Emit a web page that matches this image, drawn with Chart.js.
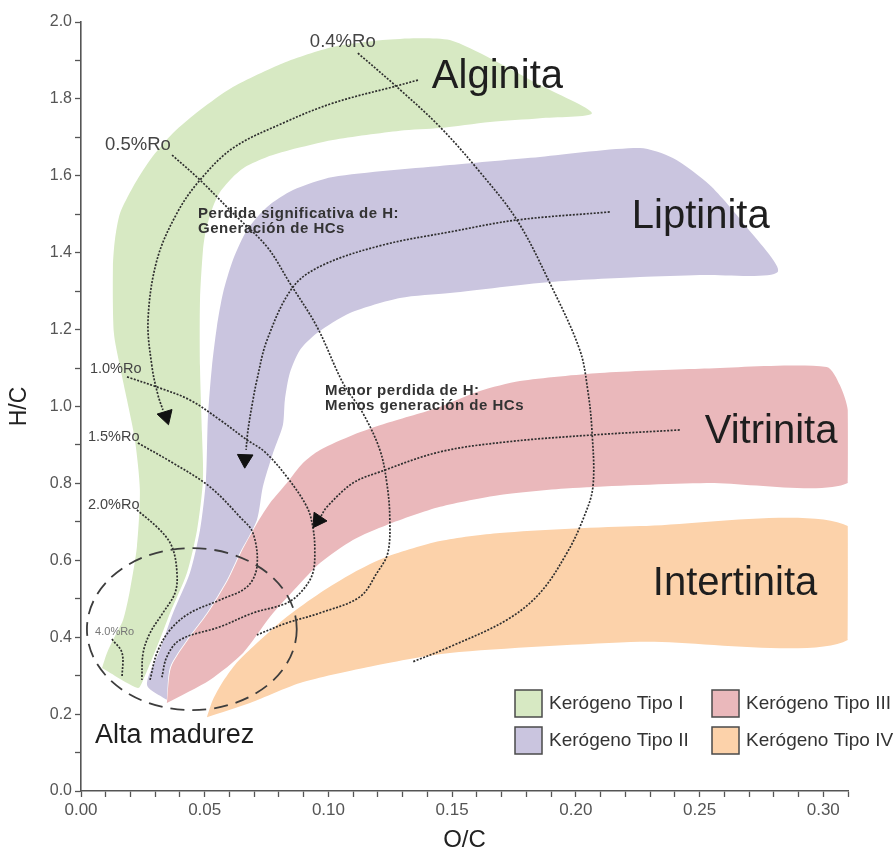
<!DOCTYPE html>
<html>
<head>
<meta charset="utf-8">
<script src="https://cdn.jsdelivr.net/npm/chart.js@4.4.1/dist/chart.umd.min.js"></script>
<style>
html,body{margin:0;padding:0;background:#fff;}
#wrap{width:896px;height:852px;position:relative;}
canvas{display:block;}
</style>
</head>
<body>
<div id="wrap"><canvas id="c" width="896" height="852"></canvas></div>
<script>
// ---------------- data (O/C, H/C) ----------------
const xTickLabels = ['0.00','0.05','0.10','0.15','0.20','0.25','0.30'];
const yTickLabels = ['0.0','0.2','0.4','0.6','0.8','1.0','1.2','1.4','1.6','1.8','2.0'];

const kerogenTypes = ['Kerógeno Tipo I','Kerógeno Tipo II','Kerógeno Tipo III','Kerógeno Tipo IV'];

const typeI = [[0.0085,0.320],[0.0105,0.359],[0.0129,0.393],[0.0170,0.445],[0.0198,0.523],[0.0226,0.635],
  [0.0238,0.783],[0.0218,0.913],[0.0186,1.017],[0.0158,1.103],[0.0133,1.191],[0.0129,1.363],[0.0137,1.433],
  [0.0158,1.503],[0.0210,1.571],[0.0279,1.641],[0.0372,1.711],[0.0481,1.771],[0.0614,1.831],[0.0816,1.893],
  [0.1018,1.935],[0.1220,1.953],[0.1358,1.958],[0.1491,1.953],[0.1653,1.906],[0.1855,1.836],[0.2065,1.763],
  [0.1855,1.750],[0.1653,1.740],[0.1451,1.724],[0.1289,1.717],[0.1018,1.693],[0.0844,1.667],[0.0752,1.649],
  [0.0663,1.623],[0.0614,1.597],[0.0562,1.558],[0.0533,1.519],[0.0505,1.459],[0.0493,1.407],[0.0481,1.277],
  [0.0481,1.103],[0.0489,0.931],[0.0493,0.809],[0.0469,0.679],[0.0428,0.567],[0.0360,0.463],[0.0307,0.375],
  [0.0251,0.289],[0.0230,0.268],[0.0085,0.320]];

const typeII = [[0.0347,0.237],[0.0267,0.276],[0.0319,0.367],[0.0372,0.463],[0.0440,0.567],[0.0481,0.679],
  [0.0505,0.809],[0.0513,0.973],[0.0529,1.103],[0.0549,1.207],[0.0574,1.295],[0.0614,1.381],[0.0671,1.459],
  [0.0752,1.519],[0.0857,1.563],[0.1018,1.597],[0.1491,1.628],[0.1855,1.649],[0.2259,1.672],[0.2392,1.646],
  [0.2541,1.576],[0.2683,1.472],[0.2816,1.350],[0.2501,1.342],[0.2259,1.337],[0.1895,1.324],[0.1491,1.295],
  [0.1289,1.282],[0.1087,1.243],[0.0954,1.191],[0.0885,1.147],[0.0844,1.087],[0.0824,1.017],[0.0816,0.952],
  [0.0776,0.879],[0.0735,0.791],[0.0711,0.705],[0.0642,0.619],[0.0590,0.549],[0.0509,0.463],[0.0428,0.393],
  [0.0360,0.322],[0.0347,0.237]];

const typeIII = [[0.0347,0.229],[0.0364,0.322],[0.0432,0.393],[0.0513,0.463],[0.0594,0.549],[0.0646,0.619],
  [0.0715,0.700],[0.0764,0.749],[0.0832,0.801],[0.0897,0.853],[0.0966,0.887],[0.1099,0.926],[0.1236,0.957],
  [0.1451,0.999],[0.1612,1.040],[0.1774,1.066],[0.2097,1.087],[0.2501,1.098],[0.3014,1.103],[0.3067,1.056],
  [0.3099,0.991],[0.3099,0.801],[0.2529,0.801],[0.1988,0.788],[0.1693,0.770],[0.1451,0.739],[0.1236,0.692],
  [0.1099,0.653],[0.0966,0.593],[0.0873,0.531],[0.0764,0.453],[0.0655,0.359],[0.0521,0.289],[0.0347,0.229]];

const typeIV = [[0.0509,0.192],[0.0533,0.237],[0.0570,0.281],[0.0622,0.328],[0.0695,0.375],[0.0832,0.453],
  [0.0966,0.515],[0.1099,0.567],[0.1236,0.609],[0.1451,0.650],[0.1693,0.671],[0.2259,0.689],[0.3099,0.689],
  [0.3099,0.393],[0.2259,0.388],[0.1491,0.359],[0.1156,0.322],[0.0885,0.281],[0.0683,0.229],[0.0509,0.192]];

// evolution paths
const pathI = [[0.1362,1.849],[0.1277,1.834],[0.1018,1.789],[0.0816,1.737],[0.0614,1.672],[0.0481,1.589],
  [0.0388,1.503],[0.0307,1.381],[0.0271,1.225],[0.0287,1.103],[0.0311,1.030],[0.0331,0.991]];
const pathII = [[0.2137,1.506],[0.1762,1.485],[0.1491,1.454],[0.1220,1.420],[0.0978,1.368],[0.0857,1.311],
  [0.0752,1.173],[0.0711,1.069],[0.0695,1.017],[0.0675,0.939],[0.0667,0.887]];
const pathIII = [[0.2420,0.939],[0.2069,0.926],[0.1721,0.908],[0.1451,0.882],[0.1208,0.830],[0.1099,0.801],
  [0.0994,0.739],[0.0970,0.715]];
const arrowHeads = [[0.0343,0.975],[0.0663,0.863],[0.0958,0.704]];
const arrowAngles = [163,182,214];

// iso-reflectance lines
const ro04 = [[0.1119,1.919],[0.1277,1.831],[0.1451,1.727],[0.1612,1.610],[0.1762,1.485],[0.1895,1.321],
  [0.2016,1.147],[0.2048,1.043],[0.2065,0.939],[0.2069,0.791],[0.2028,0.705],[0.1964,0.619],[0.1855,0.515],
  [0.1721,0.445],[0.1491,0.375],[0.1341,0.336]];
const ro05 = [[0.0368,1.654],[0.0481,1.589],[0.0614,1.503],[0.0752,1.415],[0.0844,1.321],[0.0954,1.207],
  [0.1059,1.061],[0.1139,0.983],[0.1208,0.887],[0.1236,0.801],[0.1248,0.713],[0.1240,0.619],[0.1196,0.567],
  [0.1127,0.505],[0.0966,0.463],[0.0832,0.437],[0.0711,0.406]];
const ro10 = [[0.0186,1.077],[0.0319,1.048],[0.0440,1.017],[0.0562,0.965],[0.0671,0.913],[0.0743,0.882],
  [0.0832,0.817],[0.0913,0.739],[0.0937,0.687],[0.0945,0.627],[0.0937,0.567],[0.0897,0.523],[0.0832,0.489],
  [0.0695,0.463],[0.0562,0.427],[0.0400,0.393],[0.0347,0.349],[0.0327,0.296]];
const ro15 = [[0.0230,0.905],[0.0372,0.853],[0.0521,0.791],[0.0642,0.713],[0.0695,0.671],[0.0711,0.583],
  [0.0671,0.531],[0.0562,0.497],[0.0440,0.463],[0.0360,0.419],[0.0307,0.359],[0.0279,0.289]];
const ro20 = [[0.0226,0.731],[0.0319,0.679],[0.0368,0.635],[0.0388,0.567],[0.0380,0.515],[0.0331,0.463],
  [0.0279,0.411],[0.0251,0.359],[0.0246,0.289]];
const ro40 = [[0.0125,0.395],[0.0166,0.359],[0.0166,0.296]];

// high maturity zone: centre x, centre y, radius x, radius y
const highMaturity = [0.0448, 0.421, 0.0424, 0.2107];

// text annotations [text, O/C, H/C]
const macerals = [['Alginita',0.1418,1.828],['Liptinita',0.2226,1.464],['Vitrinita',0.2521,0.905],['Intertinita',0.2311,0.510]];
const roLabelsBig = [['0.4%Ro',0.0925,1.935],['0.5%Ro',0.0097,1.667]];
const roLabelsSmall = [['1.0%Ro',0.0036,1.087],['1.5%Ro',0.0028,0.910],['2.0%Ro',0.0028,0.733]];
const roLabelsTiny = [['4.0%Ro',0.0057,0.406]];
const notes = [['Perdida significativa de H:',0.0473,1.490],['Generación de HCs',0.0473,1.451],
  ['Menor perdida de H:',0.0986,1.030],['Menos generación de HCs',0.0986,0.991]];
const zoneLabel = [['Alta madurez',0.0057,0.125]];

// ---------------- chart ----------------
const FONT = "'Liberation Sans', Arial, Helvetica, sans-serif";
const pts = a => a.map(p => ({x:p[0], y:p[1]}));
const bandColors = ['#d7e9c3','#cac5df','#eab8bb','#fcd2aa'];

const bandSets = [typeI, typeII, typeIII, typeIV].map((d,i) => ({
  label: kerogenTypes[i], data: pts(d), showLine: true, fill: 'shape',
  backgroundColor: bandColors[i], borderColor: 'rgba(0,0,0,0)', borderWidth: 0,
  pointRadius: 0, tension: 0.25, order: 20 - i, isBand: true
}));
const dotted = (label, d) => ({
  label, data: pts(d), showLine: true, fill: false, borderColor: '#2e2e2e',
  borderWidth: 1.7, borderDash: [2, 1.5], pointRadius: 0, tension: 0.35, order: 5
});
const lineSets = [
  dotted('Trayectoria I', pathI), dotted('Trayectoria II', pathII), dotted('Trayectoria III', pathIII),
  dotted('0.4%Ro', ro04), dotted('0.5%Ro', ro05), dotted('1.0%Ro', ro10),
  dotted('1.5%Ro', ro15), dotted('2.0%Ro', ro20), dotted('4.0%Ro', ro40)
];
const arrowSet = {
  label: 'flechas', data: pts(arrowHeads), showLine: false, pointStyle: 'triangle',
  pointRadius: 9, pointRotation: arrowAngles, backgroundColor: '#111', borderColor: '#111',
  pointBackgroundColor: '#111', pointBorderColor: '#111', pointBorderWidth: 1, order: 1
};

const decor = {
  id: 'decor',
  afterDatasetsDraw(chart) {
    const {ctx, scales: {x, y}} = chart;
    ctx.save();
    // dashed high-maturity ellipse
    const cx = x.getPixelForValue(highMaturity[0]), cy = y.getPixelForValue(highMaturity[1]);
    const rx = Math.abs(x.getPixelForValue(highMaturity[0] + highMaturity[2]) - cx);
    const ry = Math.abs(y.getPixelForValue(highMaturity[1] + highMaturity[3]) - cy);
    ctx.setLineDash([14, 8]); ctx.lineWidth = 1.8; ctx.strokeStyle = '#3d3d3d';
    ctx.beginPath(); ctx.ellipse(cx, cy, rx, ry, 0, 0, Math.PI * 2); ctx.stroke();
    ctx.setLineDash([]);
    const draw = (arr, font, color, spacing) => {
      ctx.font = font; ctx.fillStyle = color; ctx.textAlign = 'left'; ctx.textBaseline = 'alphabetic';
      if ('letterSpacing' in ctx) ctx.letterSpacing = spacing || '0px';
      arr.forEach(t => ctx.fillText(t[0], x.getPixelForValue(t[1]), y.getPixelForValue(t[2])));
      if ('letterSpacing' in ctx) ctx.letterSpacing = '0px';
    };
    draw(macerals, '40px ' + FONT, '#1e1e1e');
    draw(roLabelsBig, '18.5px ' + FONT, '#444');
    draw(roLabelsSmall, '14.5px ' + FONT, '#444');
    draw(roLabelsTiny, '11px ' + FONT, '#777');
    draw(notes, 'bold 15px ' + FONT, '#333', '0.5px');
    draw(zoneLabel, '27px ' + FONT, '#1e1e1e');
    // legend
    const bands = chart.data.datasets.filter(d => d.isBand);
    const slots = [[515,690],[515,727],[712,690],[712,727]];
    ctx.font = '19px ' + FONT; ctx.textBaseline = 'middle';
    bands.forEach((d, i) => {
      const [lx, ly] = slots[i];
      ctx.fillStyle = d.backgroundColor; ctx.fillRect(lx, ly, 27, 27);
      ctx.lineWidth = 1.5; ctx.strokeStyle = '#4a4a4a'; ctx.strokeRect(lx, ly, 27, 27);
      ctx.fillStyle = '#333'; ctx.fillText(d.label, lx + 34, ly + 14);
    });
    ctx.restore();
  }
};

new Chart(document.getElementById('c'), {
  type: 'scatter',
  data: { datasets: [arrowSet, ...lineSets, ...bandSets] },
  options: {
    responsive: false, devicePixelRatio: 1, animation: false, events: [],
    layout: { padding: { left: 0, right: 48, top: 22, bottom: 0 } },
    plugins: { legend: { display: false }, tooltip: { enabled: false } },
    scales: {
      x: {
        type: 'linear', min: 0, max: 0.31,
        afterFit: s => { s.height = 61; },
        ticks: {
          stepSize: 0.01, autoSkip: false, maxRotation: 0, minRotation: 0, padding: 3,
          color: '#555', font: { family: FONT, size: 17 },
          callback: v => { const s = Number(v).toFixed(2); return xTickLabels.includes(s) ? s : ''; }
        },
        grid: { drawOnChartArea: false, drawTicks: true, tickLength: 6, tickColor: '#555', tickWidth: 1.3 },
        border: { display: true, color: '#555', width: 1.6 },
        title: { display: true, text: 'O/C', color: '#222', font: { family: FONT, size: 24, lineHeight: 1 }, padding: { top: 0, bottom: 0 } }
      },
      y: {
        type: 'linear', min: 0, max: 2.0,
        afterFit: s => { s.width = 81; },
        ticks: {
          stepSize: 0.1, autoSkip: false, padding: 3,
          color: '#555', font: { family: FONT, size: 16 },
          callback: v => { const s = Number(v).toFixed(1); return yTickLabels.includes(s) && Math.round(v * 10) % 2 === 0 ? s : ''; }
        },
        grid: { drawOnChartArea: false, drawTicks: true, tickLength: 6, tickColor: '#555', tickWidth: 1.3 },
        border: { display: true, color: '#555', width: 1.6 },
        title: { display: true, text: 'H/C', color: '#222', font: { family: FONT, size: 23, lineHeight: 1 }, padding: { top: 8, bottom: 0 } }
      }
    }
  },
  plugins: [decor]
});
</script>
</body>
</html>
